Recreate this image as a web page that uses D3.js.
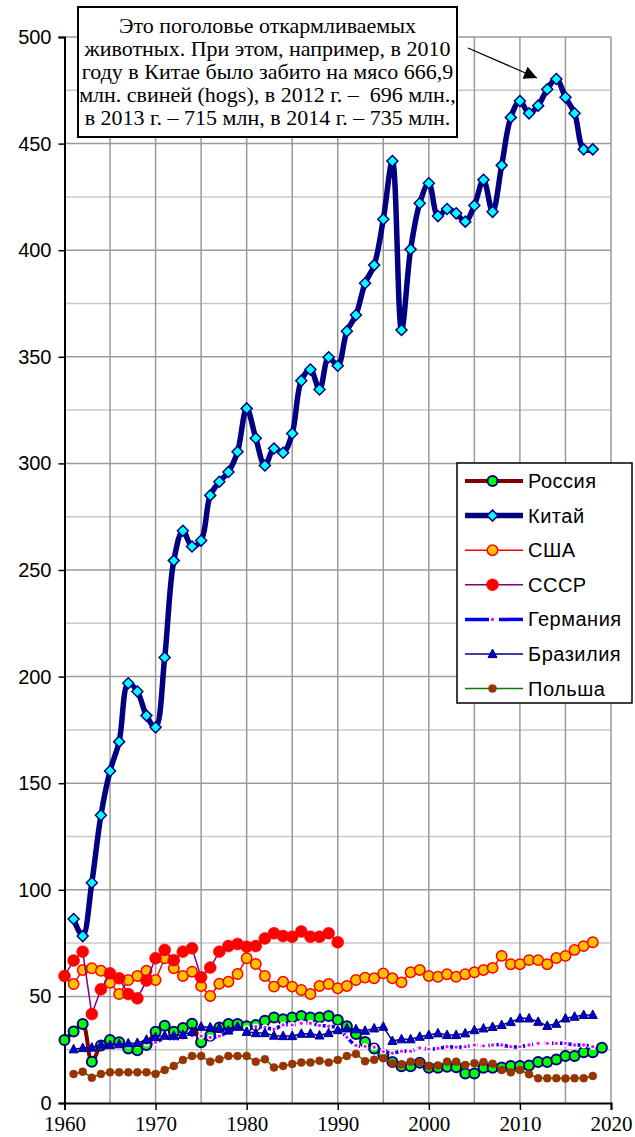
<!DOCTYPE html>
<html>
<head>
<meta charset="utf-8">
<script src="https://cdn.jsdelivr.net/npm/d3@7"></script>
<style>
  body { margin: 0; background: #fff; }
  svg { display: block; }
</style>
</head>
<body>
<div id="chart"></div>
<script>
// values, millions of head
const russiaStart = 1960;
const russia = [29.5, 33.5, 37, 19.4, 27, 29.5, 28.5, 25.6, 24.7, 27.2,
  33.4, 36.2, 33.4, 35.2, 37.2, 28.5, 31.5, 35.4, 37, 37,
  36, 36.6, 38.6, 40.1, 39.3, 40.1, 40.8, 40.1, 40.1, 40.8,
  38.9, 36, 32.4, 28.6, 25.6, 22.7, 19.2, 17.2, 17.2, 18.9,
  16.5, 16.5, 17, 16.8, 13.8, 13.8, 16.5, 16.5, 16.6, 17.4,
  17.4, 17.6, 19.2, 19.2, 20.4, 22.1, 22.1, 23.8, 23.8, 25.9];

const chinaStart = 1961;
const china = [86.3, 78.3, 103.3, 135, 155.7, 169.5, 196.9, 193, 181.7,
  176.2, 209, 254.4, 268.4, 261, 263.8, 285, 291.4, 296, 305.5,
  325.8, 311.8, 299, 307, 305, 314, 338.8, 344, 334.7, 349.8,
  345.8, 362, 369.6, 384.5, 393, 414.5, 441.8, 362.6, 400.4, 422,
  431.4, 416, 419.3, 417.3, 413.4, 421, 433, 418, 439.8, 462.3,
  470, 464.2, 467.8, 475.5, 480.3, 471.7, 464.2, 447.3, 447.3];

const usaStart = 1961;
const usa = [55.8, 62.4, 63.2, 62, 56.4, 51.1, 57.7, 59.6, 62,
  57.7, 67.9, 63.2, 59.6, 61.6, 54.8, 50.2, 55.9, 56.9, 60.5,
  67.9, 65.2, 59.6, 54.6, 56.9, 54.6, 53, 51.1, 54.9, 55.8,
  53.8, 54.9, 57.7, 58.8, 58.5, 60.8, 58.5, 56.6, 61.3, 62.4,
  59.6, 59.2, 60.4, 59.2, 60.4, 61.3, 62.4, 63.4, 69, 65.1,
  65.1, 67, 67, 65.1, 68, 69, 71.8, 73.6, 75.4];

const ussrStart = 1960;
const ussr = [59.6, 66.8, 71, 41.7, 53.3, 60.8, 58.5, 51.1, 49.1, 57.4,
  67.9, 71.8, 67, 71, 72.6, 59, 63.5, 71, 73.6, 74.6,
  73.3, 73.6, 77.2, 79.6, 78.3, 78, 80.4, 78, 78, 79.6,
  75.4];

const germanyStart = 1966;
const germany = [27, 27, 27.5, 28,
  28.5, 30.5, 30, 30.5, 31.5, 31.4, 30.8, 31.4, 33.5, 34.5,
  35, 35.8, 35.5, 34.6, 36.6, 36.6, 37.4, 37.4, 36.4, 36,
  35.2, 30.8, 27, 26.6, 26.2, 24.1, 23.4, 24.3, 24.3, 25.8,
  25.3, 25.6, 26.4, 26.2, 26.4, 27.2, 26.8, 27.2, 27.2, 26.4,
  26.4, 27.2, 28, 28, 28, 28, 27.2, 27.2, 26.4];

const brazilStart = 1961;
const brazil = [25.2, 25.8, 26, 27.2, 27.2, 27.6, 28, 28.2, 29.7,
  31, 31.6, 31.6, 32, 33.4, 35.8, 35.5, 35.2, 34, 35.8,
  33.4, 32.8, 32.8, 31.6, 31.4, 31.4, 32.5, 32.5, 31.7, 32.8,
  34.2, 35, 34.6, 33.9, 35, 35.8, 29.1, 29.9, 29.9, 31.1,
  31.9, 32.7, 31.9, 31.9, 32.7, 34.2, 35, 35.7, 36.6, 38,
  39.7, 39.7, 38.1, 36.2, 37.2, 39.7, 40.5, 41.3, 41.3];

const polandStart = 1961;
const poland = [13.6, 14.7, 11.9, 13.6, 14.4, 14.4, 14.4, 14.4, 14.4,
  13.6, 15.5, 17.4, 20.2, 22, 22, 19.4, 20.5, 22, 22,
  22, 19.4, 20.5, 16.7, 17.4, 18.3, 19, 19, 19.8, 19,
  20.2, 22, 23, 19.6, 20.3, 21, 18.5, 18, 19.4, 19.2,
  17.2, 17.6, 19.4, 19.4, 17.8, 18.6, 19.2, 18.4, 15.5, 14.4,
  15.5, 13.5, 11.6, 11.6, 11.6, 11.5, 11.6, 11.6, 12.7];

const yTicks = [0, 50, 100, 150, 200, 250, 300, 350, 400, 450, 500];
const xTicks = [1960, 1970, 1980, 1990, 2000, 2010, 2020];

const noteLines = [
  "Это поголовье откармливаемых",
  "животных. При этом, например, в 2010",
  "году в Китае было забито на мясо 666,9",
  "млн. свиней (hogs), в 2012 г. –  696 млн.,",
  "в 2013 г. – 715 млн, в 2014 г. – 735 млн."
];

let width = 635, height = 1137;

let svg = d3.select("#chart").append("svg")
  .attr("width", width)
  .attr("height", height);

let x = d3.scaleLinear().domain([1960, 2020]).range([64.5, 611]);
let y = d3.scaleLinear().domain([0, 500]).range([1103, 37]);

// grid
let grid = svg.append("g");
grid.selectAll(".hg")
  .data(d3.range(25, 501, 25))
  .enter().append("line")
  .attr("x1", x(1960)).attr("x2", x(2020))
  .attr("y1", d => y(d)).attr("y2", d => y(d))
  .attr("stroke", d => d % 50 == 0 ? "#9a9a9a" : "#c8c8c8")
  .attr("stroke-width", 1.5);

grid.selectAll(".vg")
  .data(d3.range(1965, 2021, 5))
  .enter().append("line")
  .attr("x1", d => x(d)).attr("x2", d => x(d))
  .attr("y1", y(0)).attr("y2", y(500))
  .attr("stroke", "#9a9a9a")
  .attr("stroke-width", 1.5);

// axes
let yAxis = svg.append("g")
  .attr("transform", `translate(${x(1960)},0)`)
  .call(d3.axisLeft(y).tickValues(yTicks).tickSize(6).tickPadding(7));

let xAxis = svg.append("g")
  .attr("transform", `translate(0,${y(0)})`)
  .call(d3.axisBottom(x).tickValues(xTicks).tickFormat(d3.format("d")).tickSize(7).tickPadding(6));

yAxis.select(".domain").attr("stroke", "#000").attr("stroke-width", 2);
xAxis.select(".domain").attr("stroke", "#000").attr("stroke-width", 2);
yAxis.selectAll(".tick line").attr("stroke", "#000").attr("stroke-width", 1.5);
xAxis.selectAll(".tick line").attr("stroke", "#000").attr("stroke-width", 1.5);
yAxis.selectAll(".tick text")
  .attr("font-family", "Liberation Sans, Arial, sans-serif")
  .attr("font-size", 20)
  .attr("fill", "#000");
xAxis.selectAll(".tick text")
  .attr("font-family", "Liberation Serif, Times New Roman, serif")
  .attr("font-size", 21)
  .attr("fill", "#000");

// series
function pts(start, vals) {
  return vals.map((v, i) => ({year: start + i, value: v}));
}

let series = [
  {name: "Россия", data: pts(russiaStart, russia), line: "#800000", lw: 4, smooth: true,
    marker: "circle", size: 5, fill: "#00ff00", stroke: "#000080", sw: 2},
  {name: "Китай", data: pts(chinaStart, china), line: "#000080", lw: 5.5, smooth: true,
    marker: "diamond", size: 5.5, fill: "#00ffff", stroke: "#000080", sw: 1.5},
  {name: "США", data: pts(usaStart, usa), line: "#ff0000", lw: 1.5,
    marker: "circle", size: 5.2, fill: "#ffc000", stroke: "#ff0000", sw: 1.5},
  {name: "СССР", data: pts(ussrStart, ussr), line: "#800080", lw: 1.5,
    marker: "circle", size: 6, fill: "#ff0000", stroke: "#ff0000", sw: 0.5},
  {name: "Германия", data: pts(germanyStart, germany), line: "#0000ff", lw: 3.5, dash: "5,3", smooth: true,
    marker: "small", size: 2.4, fill: "#ff00ff", stroke: "#fff", sw: 1.5},
  {name: "Бразилия", data: pts(brazilStart, brazil), line: "#000080", lw: 1.5,
    marker: "triangle", size: 4.5, fill: "#0000cc", stroke: "#000080", sw: 1},
  {name: "Польша", data: pts(polandStart, poland), line: "#008000", lw: 1.5,
    marker: "circle", size: 4, fill: "#993300", stroke: "#993300", sw: 0.5}
];

function markerPath(kind, s) {
  if (kind == "diamond") return `M0,${-s}L${s},0L0,${s}L${-s},0Z`;
  if (kind == "triangle") return `M0,${-s * 1.1}L${s},${s * 0.8}L${-s},${s * 0.8}Z`;
  return d3.symbol().type(d3.symbolCircle).size(Math.PI * s * s)();
}

let plot = svg.append("g");

series.forEach(s => {
  let line = d3.line()
    .x(d => x(d.year))
    .y(d => y(d.value))
    .curve(s.smooth ? d3.curveCatmullRom.alpha(0.5) : d3.curveLinear);

  let g = plot.append("g");
  g.append("path")
    .datum(s.data)
    .attr("d", line)
    .attr("fill", "none")
    .attr("stroke", s.line)
    .attr("stroke-width", s.lw)
    .attr("stroke-dasharray", s.dash || null)
    .attr("stroke-linejoin", "round");

  g.selectAll("path.m")
    .data(s.data)
    .enter().append("path")
    .attr("class", "m")
    .attr("transform", d => `translate(${x(d.year)},${y(d.value)})`)
    .attr("d", markerPath(s.marker, s.size))
    .attr("fill", s.fill)
    .attr("stroke", s.stroke)
    .attr("stroke-width", s.sw);
});

// note box
let note = svg.append("g");
note.append("rect")
  .attr("x", 78).attr("y", 7)
  .attr("width", 379).attr("height", 130)
  .attr("fill", "#fff")
  .attr("stroke", "#000")
  .attr("stroke-width", 2);

note.selectAll("text")
  .data(noteLines)
  .enter().append("text")
  .attr("x", 267.5)
  .attr("y", (d, i) => 33 + i * 23)
  .attr("text-anchor", "middle")
  .attr("font-family", "Liberation Serif, Times New Roman, serif")
  .attr("font-size", 22)
  .attr("xml:space", "preserve")
  .style("white-space", "pre")
  .text(d => d);

svg.append("defs").append("marker")
  .attr("id", "arrow")
  .attr("viewBox", "0 0 10 10")
  .attr("refX", 10).attr("refY", 5)
  .attr("markerWidth", 17).attr("markerHeight", 13)
  .attr("markerUnits", "userSpaceOnUse")
  .attr("orient", "auto")
  .append("path")
  .attr("d", "M0,0L10,5L0,10Z")
  .attr("fill", "#000");

svg.append("line")
  .attr("x1", 468).attr("y1", 48)
  .attr("x2", 537).attr("y2", 78)
  .attr("stroke", "#000")
  .attr("stroke-width", 1.3)
  .attr("marker-end", "url(#arrow)");

// legend
let legend = svg.append("g");
legend.append("rect")
  .attr("x", 457).attr("y", 463)
  .attr("width", 175).attr("height", 240)
  .attr("fill", "#fff")
  .attr("stroke", "#000")
  .attr("stroke-width", 1.5);

let item = legend.selectAll(".item")
  .data(series)
  .enter().append("g")
  .attr("transform", (d, i) => `translate(0,${481 + i * 34.6})`);

item.append("line")
  .attr("x1", 465).attr("x2", 523)
  .attr("stroke", d => d.line)
  .attr("stroke-width", d => d.lw)
  .attr("stroke-dasharray", d => d.dash ? "24,10" : null);

item.append("path")
  .attr("transform", "translate(492.5,0)")
  .attr("d", d => markerPath(d.marker, d.size))
  .attr("fill", d => d.fill)
  .attr("stroke", d => d.stroke)
  .attr("stroke-width", d => d.sw);

item.append("text")
  .attr("x", 528)
  .attr("y", 7)
  .attr("font-family", "Liberation Sans, Arial, sans-serif")
  .attr("font-size", 20)
  .attr("letter-spacing", 0.5)
  .text(d => d.name);
</script>
</body>
</html>
